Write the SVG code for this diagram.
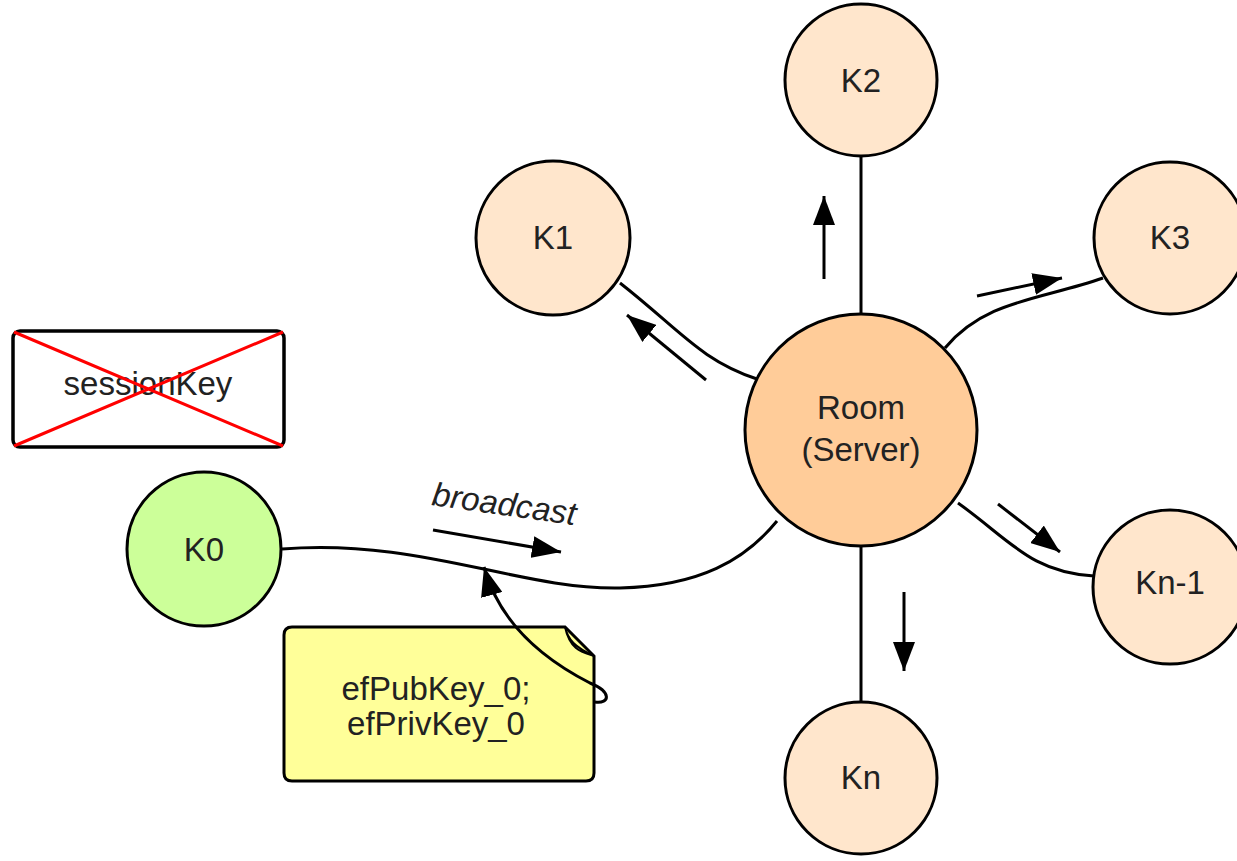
<svg xmlns="http://www.w3.org/2000/svg" width="1237" height="861" viewBox="0 0 1237 861">
  <defs>
    <marker id="arrow" viewBox="0 0 10 10" preserveAspectRatio="none" refX="10" refY="5" markerWidth="29" markerHeight="22" markerUnits="userSpaceOnUse" orient="auto">
      <path d="M0,0 L10,5 L0,10 Z" fill="#000"/>
    </marker>
    <style>
      .node { stroke: #000; stroke-width: 3; }
      .peer { fill: #ffe6cc; }
      .server { fill: #ffcc99; }
      .self { fill: #ccff99; }
      .label { font-family: "Liberation Sans", Arial, sans-serif; font-size: 33px; fill: #222; text-anchor: middle; }
      .wire { fill: none; stroke: #000; stroke-width: 3; }
      .flow { fill: none; stroke: #000; stroke-width: 3; marker-end: url(#arrow); }
    </style>
  </defs>
  <rect width="1237" height="861" fill="#fff"/>

  <g id="sessionKey">
    <rect x="13" y="331" width="271" height="116" rx="7" fill="#fff" stroke="#000" stroke-width="3.5"/>
    <text class="label" x="148" y="395">sessionKey</text>
    <path d="M14,332 L283,446 M283,332 L14,446" stroke="#ff0000" stroke-width="3" fill="none"/>
  </g>

  <g id="note">
    <path d="M292,627 L565,627 L594,656 L594,773 Q594,781 586,781 L292,781 Q284,781 284,773 L284,635 Q284,627 292,627 Z" fill="#ffff99" stroke="#000" stroke-width="3"/>
    <path d="M565,627 C568,640 575,647 594,656 C582,652 570,650 565,627 Z" fill="#c8c87a" stroke="#000" stroke-width="2"/>
    <text class="label" x="436" y="700">efPubKey_0;</text>
    <text class="label" x="436" y="735">efPrivKey_0</text>
  </g>

  <g id="K0">
    <circle class="node self" cx="204" cy="549" r="77"/>
    <text class="label" x="204" y="561">K0</text>
  </g>

  <g id="room">
    <circle class="node server" cx="861" cy="430" r="116"/>
    <text class="label" x="861" y="419">Room</text>
    <text class="label" x="861" y="461">(Server)</text>
  </g>

  <g id="K1">
    <circle class="node peer" cx="553" cy="238" r="77"/>
    <text class="label" x="553" y="249">K1</text>
  </g>

  <g id="K2">
    <circle class="node peer" cx="861" cy="80" r="76"/>
    <text class="label" x="861" y="92">K2</text>
  </g>

  <g id="K3">
    <circle class="node peer" cx="1170" cy="238" r="76"/>
    <text class="label" x="1170" y="249">K3</text>
  </g>

  <g id="Kn-1">
    <circle class="node peer" cx="1170" cy="587" r="77"/>
    <text class="label" x="1170" y="594">Kn-1</text>
  </g>

  <g id="Kn">
    <circle class="node peer" cx="861" cy="778" r="76"/>
    <text class="label" x="861" y="789">Kn</text>
  </g>

  <g id="connectors">
    <path class="wire" d="M282,549 C420,538 520,590 620,588 C700,586 745,560 777,521"/>
    <path class="wire" d="M757,379 C700,360 680,330 620,283"/>
    <path class="wire" d="M861,156 L861,314"/>
    <path class="wire" d="M945,348 C985,300 1040,300 1103,278"/>
    <path class="wire" d="M958,503 C1010,540 1030,572 1094,576"/>
    <path class="wire" d="M861,546 L861,702"/>
    <path class="flow" d="M595,702 C610,704 612,692 590,683 C545,660 500,625 484,567"/>
    <path class="flow" d="M433,530 L561,552"/>
    <path class="flow" d="M706,380 L627,315"/>
    <path class="flow" d="M824,279 L824,196"/>
    <path class="flow" d="M977,296 L1062,278"/>
    <path class="flow" d="M998,504 L1060,552"/>
    <path class="flow" d="M904,592 L904,671"/>
    <text class="label" x="0" y="0" transform="translate(431,505) rotate(8)" style="text-anchor:start;font-style:italic">broadcast</text>
  </g>
</svg>
